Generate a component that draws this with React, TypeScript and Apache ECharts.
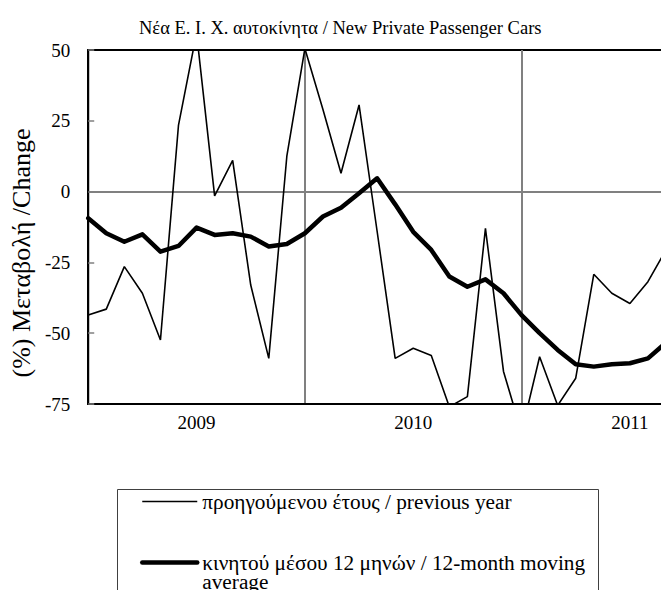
import React, { useEffect, useRef } from 'react';
import * as echarts from 'echarts';

const months = [
  '2009-01', '2009-02', '2009-03', '2009-04', '2009-05', '2009-06', '2009-07', '2009-08', '2009-09', '2009-10', '2009-11', '2009-12',
  '2010-01', '2010-02', '2010-03', '2010-04', '2010-05', '2010-06', '2010-07', '2010-08', '2010-09', '2010-10', '2010-11', '2010-12',
  '2011-01', '2011-02', '2011-03', '2011-04', '2011-05', '2011-06', '2011-07', '2011-08', '2011-09',
];

const previousYear = [
  -43.6, -41.5, -26.5, -35.9, -52.4, 23.5, 56, -1.5, 11, -33, -58.9, 12.5,
  50.5, 29, 6.5, 30.6, -14, -58.9, -55.3, -57.9, -76, -72.4, -13, -63.5,
  -85, -58.3, -75.5, -65.9, -29.2, -35.9, -39.5, -31.8, -20.6,
];

const movingAverage = [
  -9.4, -14.7, -17.7, -15.1, -21.2, -19.2, -12.7, -15.3, -14.7, -15.9, -19.4, -18.5,
  -14.7, -8.8, -5.7, -0.6, 4.7, -4.5, -14.2, -20.6, -30.0, -33.6, -31.0, -35.9,
  -43.6, -50.0, -55.9, -61.0, -61.8, -61.0, -60.6, -58.9, -53.3,
];

const yMin = -75;
const yMax = 50;
const yStep = 25;

const titleText = 'Νέα Ε. Ι. Χ. αυτοκίνητα / New Private Passenger Cars';
const yAxisTitle = '(%) Μεταβολή /Change';
const nameThin = 'προηγούμενου έτους / previous year';
const nameThick = 'κινητού μέσου 12 μηνών / 12-month moving\naverage';

const FONT = "'Liberation Serif', 'Times New Roman', serif";

export default function App() {
  const ref = useRef<HTMLDivElement>(null);
  useEffect(() => {
    const chart = echarts.init(ref.current as HTMLDivElement, null, { renderer: 'svg' });
    const legendText = { fontFamily: FONT, fontSize: 21.3, lineHeight: 21, color: '#000' };
    chart.setOption({
      animation: false,
      backgroundColor: '#fff',
      textStyle: { fontFamily: FONT, color: '#000' },
      title: {
        text: titleText,
        left: 134,
        top: 13,
        textStyle: { fontFamily: FONT, fontSize: 18.5, fontWeight: 'normal', color: '#000' },
      },
      graphic: [
        {
          type: 'rect',
          silent: true,
          shape: { x: 117.5, y: 489.5, width: 481, height: 200 },
          style: { fill: 'none', stroke: '#404040', lineWidth: 1 },
          z: 0,
        },
      ],
      grid: {
        left: 87,
        top: 50,
        bottom: 186,
        right: 6,
        show: true,
        borderColor: '#000',
        borderWidth: 2,
        backgroundColor: 'transparent',
      },
      legend: {
        orient: 'vertical',
        left: 140,
        top: 491,
        height: 300,
        padding: 0,
        itemWidth: 55,
        itemHeight: 14,
        itemGap: 20.5,
        itemStyle: { opacity: 0 },
        textStyle: legendText,
        formatter: (name: string) => (name === nameThick ? '\n' + name : name),
        data: [
          { name: nameThin, lineStyle: { width: 1.6 } },
          {
            name: nameThick,
            lineStyle: { width: 4.5, cap: 'round' },
            textStyle: { ...legendText, lineHeight: 19.5 },
          },
        ],
      },
      xAxis: {
        type: 'category',
        data: months,
        boundaryGap: false,
        axisLine: { show: true, onZero: false, lineStyle: { color: '#000', width: 2 } },
        axisTick: { show: false },
        axisLabel: {
          interval: (i: number, v: string) => v.endsWith('-07'),
          formatter: (v: string) => v.slice(0, 4),
          fontFamily: FONT,
          fontSize: 19,
          color: '#000',
          margin: 9,
        },
        splitLine: {
          show: true,
          interval: (i: number, v: string) => i > 0 && v.endsWith('-01'),
          lineStyle: { color: '#808080', width: 2 },
        },
      },
      yAxis: {
        type: 'value',
        min: yMin,
        max: yMax,
        interval: yStep,
        name: yAxisTitle,
        nameLocation: 'middle',
        nameRotate: 90,
        nameGap: 53,
        nameTextStyle: { fontFamily: FONT, fontSize: 26, color: '#000', padding: [0, 52, 0, 0] },
        axisLine: { show: true, lineStyle: { color: '#000', width: 2 } },
        axisTick: { show: true, inside: true, length: 6, lineStyle: { color: '#808080', width: 1.5 } },
        axisLabel: { fontFamily: FONT, fontSize: 19, color: '#000', margin: 18, padding: [6, 0, 0, 0] },
        splitLine: {
          show: true,
          lineStyle: {
            color: ['rgba(0,0,0,0)', 'rgba(0,0,0,0)', 'rgba(0,0,0,0)', '#808080', 'rgba(0,0,0,0)', 'rgba(0,0,0,0)'],
            width: 2,
          },
        },
      },
      series: [
        {
          name: nameThick,
          type: 'line',
          data: movingAverage,
          symbol: 'none',
          clip: true,
          lineStyle: { color: '#000', width: 4.5, cap: 'round', join: 'round' },
          itemStyle: { color: '#000' },
          z: 2,
        },
        {
          name: nameThin,
          type: 'line',
          data: previousYear,
          symbol: 'none',
          clip: true,
          lineStyle: { color: '#000', width: 1.6 },
          itemStyle: { color: '#000' },
          z: 3,
        },
      ],
    });
    return () => chart.dispose();
  }, []);
  return (
    <div style={{ position: 'absolute', left: 0, top: 0, width: 661, height: 590, overflow: 'hidden' }}>
      <div ref={ref} style={{ width: 672, height: 590 }} />
    </div>
  );
}
